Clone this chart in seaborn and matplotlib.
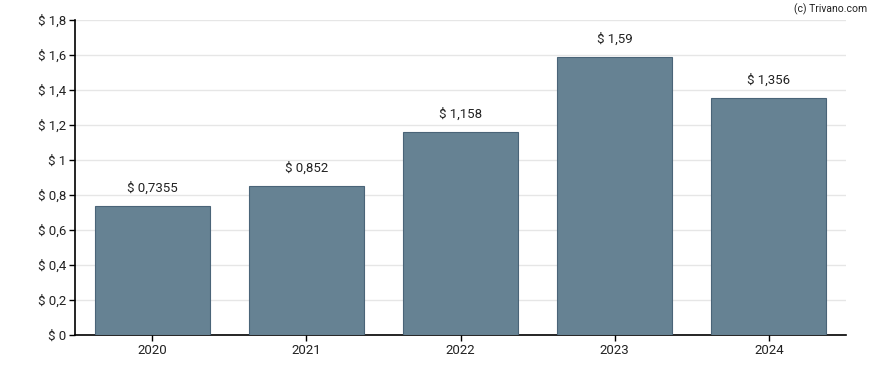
import matplotlib
matplotlib.use("Agg")
import matplotlib.pyplot as plt
import seaborn as sns
import pandas as pd
from matplotlib.ticker import FuncFormatter, MultipleLocator

years = ["2020", "2021", "2022", "2023", "2024"]
values = [0.7355, 0.852, 1.158, 1.59, 1.356]
labels = ["$ 0,7355", "$ 0,852", "$ 1,158", "$ 1,59", "$ 1,356"]

sns.set_style("white")
plt.rcParams['font.family'] = ['Roboto', 'DejaVu Sans']

df = pd.DataFrame({"year": years, "value": values})

fig = plt.figure(figsize=(8.88, 3.70), dpi=100)
ax = fig.add_axes([75/888, 35/370, (846-75)/888, (335-20)/370])

sns.barplot(data=df, x="year", y="value", color="#668293", edgecolor="#4a6478",
            linewidth=0.8, width=0.745, saturation=1, ax=ax, zorder=3)

ax.set_ylim(0, 1.8)
ax.yaxis.set_major_locator(MultipleLocator(0.2))
def fmt(v, pos):
    s = f"{v:.1f}".rstrip("0").rstrip(".")
    return "$ " + s.replace(".", ",")
ax.yaxis.set_major_formatter(FuncFormatter(fmt))
ax.grid(axis="y", color="#e6e6e6", linewidth=1, zorder=0)
ax.set_axisbelow(True)
ax.set_xlabel("")
ax.set_ylabel("")
for s in ["top", "right"]:
    ax.spines[s].set_visible(False)
for s in ["left", "bottom"]:
    ax.spines[s].set_color("black")
    ax.spines[s].set_linewidth(1.2)
ax.tick_params(axis="both", which="both", direction="out", length=4.5, width=1,
               color="black", labelsize=9.5, labelcolor="#222222", pad=2,
               left=True, bottom=True)

for i, (v, lab) in enumerate(zip(values, labels)):
    ax.annotate(lab, (i, v), xytext=(0, 8), textcoords="offset points",
                ha="center", va="bottom", fontsize=9.5, color="#222222")

fig.text(867/888, 1 - 9/370, "(c) Trivano.com", ha="right", va="center",
         fontsize=7.5, color="#222222")

fig.savefig("out.png", dpi=100)
